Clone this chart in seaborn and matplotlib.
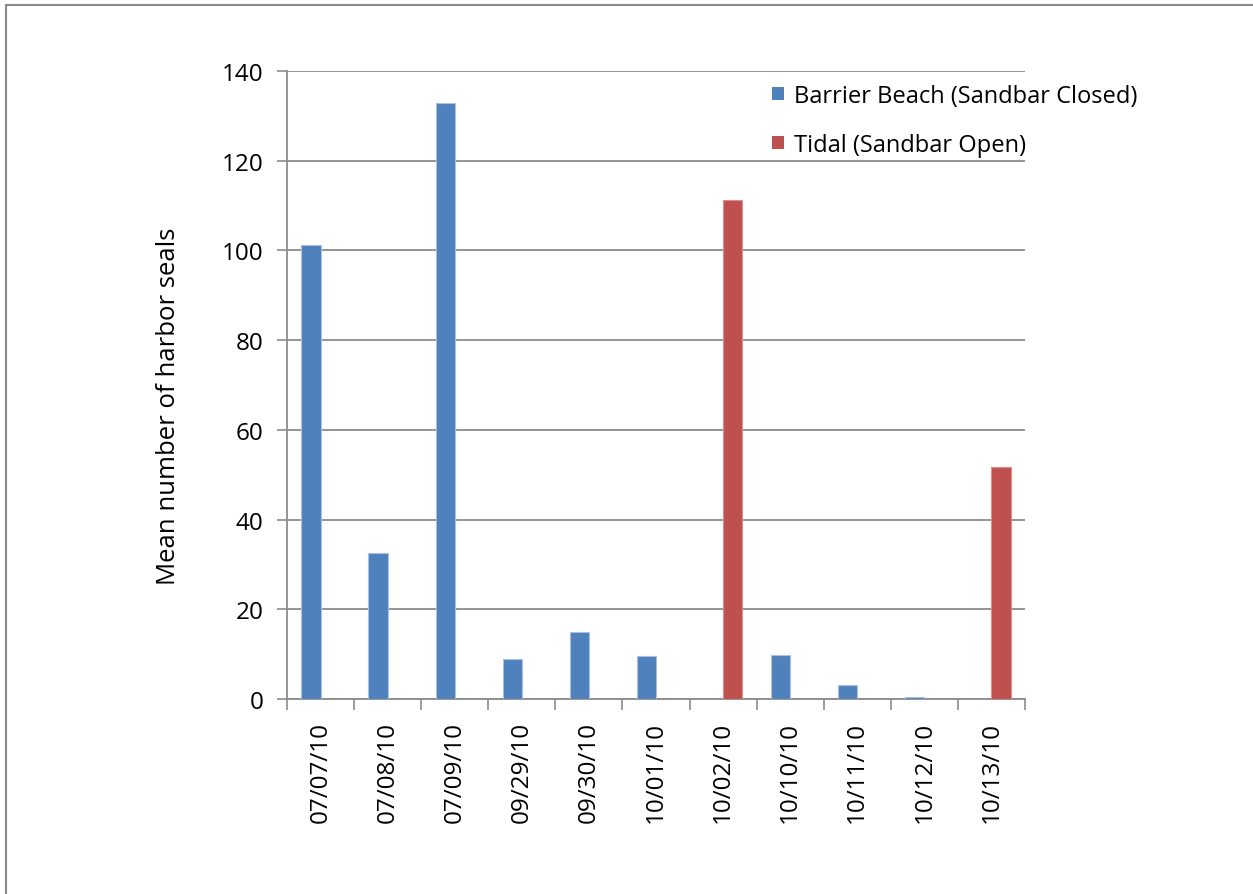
import matplotlib
matplotlib.use("Agg")
import matplotlib.pyplot as plt
from matplotlib.patches import Rectangle, Patch
import seaborn as sns
import pandas as pd

# Survey dates (x categories)
dates = ["07/07/10", "07/08/10", "07/09/10", "09/29/10", "09/30/10",
         "10/01/10", "10/02/10", "10/10/10", "10/11/10", "10/12/10", "10/13/10"]

# Mean counts per survey date, by estuary condition (None = no survey in that condition)
barrier_beach = [101.3, 32.6, 132.8, 9.0, 14.9, 9.5, None, 9.8, 3.1, 0.4, None]
tidal = [None, None, None, None, None, None, 111.2, None, None, None, 51.7]

series_names = ["Barrier Beach (Sandbar Closed)", "Tidal (Sandbar Open)"]
series_colors = ["#4F81BD", "#C0504D"]
y_ticks = [0, 20, 40, 60, 80, 100, 120, 140]

rows = []
for d, b, t in zip(dates, barrier_beach, tidal):
    if b is not None:
        rows.append({"date": d, "condition": series_names[0], "seals": b})
    if t is not None:
        rows.append({"date": d, "condition": series_names[1], "seals": t})
df = pd.DataFrame(rows)

sns.set_theme(style="white")
plt.rcParams["font.family"] = ["Open Sans", "DejaVu Sans"]
TICK_FS = 17.5
LABEL_FS = 18.5
LEGEND_FS = 17

fig = plt.figure(figsize=(12.53, 8.95), dpi=100)
ax = fig.add_axes([287 / 1253, 1 - 700 / 895, (1025 - 287) / 1253, (700 - 72) / 895])

grid_col = "#8C8C8C"

sns.barplot(data=df, x="date", y="seals", hue="condition", order=dates,
            hue_order=series_names, palette=series_colors, saturation=1,
            width=4 / 7, dodge=True, gap=0, errorbar=None, ax=ax, legend=False,
            edgecolor="#A9C0DE", linewidth=0.8, zorder=3)
# lighter edge tone for the red bars
for bar in ax.patches:
    fc = bar.get_facecolor()
    if fc[0] > 0.6:
        bar.set_edgecolor("#DA8F8D")

ax.set_xlim(-0.5, len(dates) - 0.5)
ax.set_ylim(0, 140)
ax.set_yticks(y_ticks)
ax.set_yticklabels([str(v) for v in y_ticks], fontsize=TICK_FS, color="black")
ax.yaxis.grid(True, color=grid_col, linewidth=1.3, zorder=0)
ax.set_axisbelow(True)

ax.set_xticks(range(len(dates)))
ax.set_xticklabels(dates, rotation=90, fontsize=TICK_FS, color="black")
ax.set_xticks([i + 0.5 for i in range(-1, len(dates))], minor=True)
ax.tick_params(axis="x", which="major", length=0, pad=16)
ax.tick_params(axis="x", which="minor", length=8, width=1.2, color=grid_col,
               direction="out", bottom=True)
ax.tick_params(axis="y", which="major", length=7, width=1.2, color=grid_col,
               direction="out", left=True, pad=10)

for side in ["top", "right"]:
    ax.spines[side].set_visible(False)
for side in ["left", "bottom"]:
    ax.spines[side].set_color(grid_col)
    ax.spines[side].set_linewidth(1.3)

ax.set_xlabel("")
ax.set_ylabel("Mean number of harbor seals", fontsize=LABEL_FS, color="black")
ax.yaxis.set_label_coords(-0.143, 0.467)

handles = [Patch(facecolor=c, edgecolor="none") for c in series_colors]
ax.legend(handles, series_names, loc="upper left",
          bbox_to_anchor=(772 / 1253, 1 - 85 / 895), bbox_transform=fig.transFigure,
          frameon=False, fontsize=LEGEND_FS, labelcolor="black",
          handlelength=0.5, handleheight=0.5, handletextpad=0.45,
          labelspacing=1.05, borderaxespad=0, borderpad=0)

# outer chart frame
fig.patches.append(Rectangle((6 / 1253, -0.2), 1.2, 1.2 - 6 / 895,
                             transform=fig.transFigure, fill=False,
                             edgecolor="#8A8A8A", linewidth=1.5))

fig.savefig("out.png", dpi=100, facecolor="white")
